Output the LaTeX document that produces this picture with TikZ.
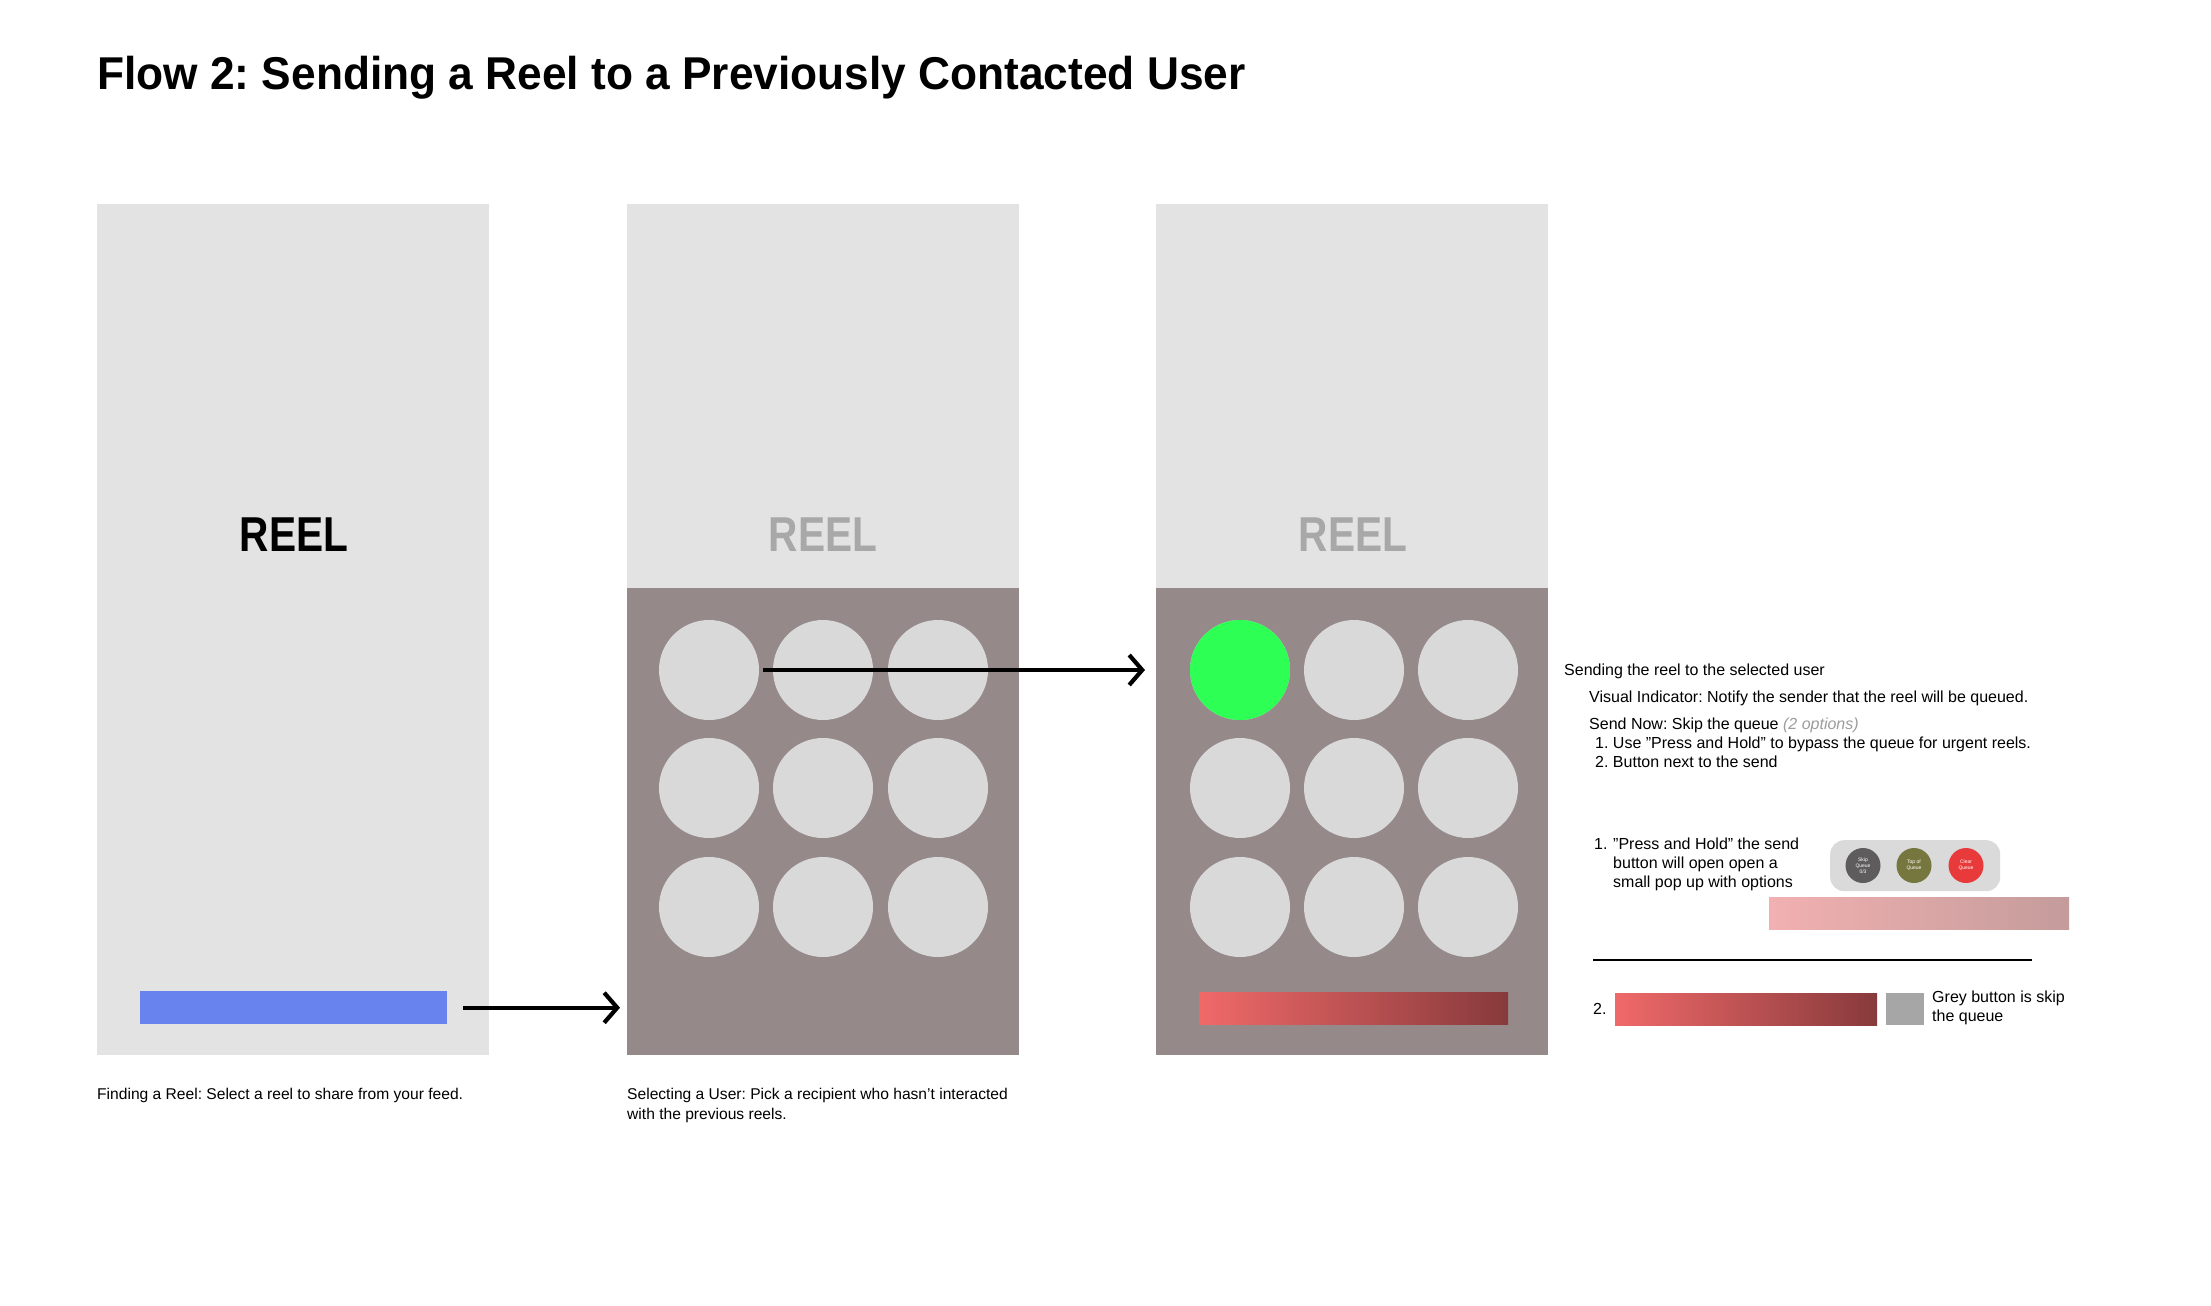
\documentclass[tikz,border=0pt]{standalone}
\usepackage{fontspec}
\setmainfont{Liberation Sans}
\usetikzlibrary{arrows.meta}
\frenchspacing
\definecolor{panelgrey}{HTML}{E3E3E3}
\definecolor{panelbrown}{HTML}{958A89}
\definecolor{circgrey}{HTML}{D9D9D9}
\definecolor{selgreen}{HTML}{2EFF55}
\definecolor{barblue}{HTML}{6883EE}
\definecolor{redA}{HTML}{F06969}
\definecolor{redB}{HTML}{873A3C}
\definecolor{pinkA}{HTML}{F2B0B1}
\definecolor{pinkB}{HTML}{C49C9B}
\definecolor{reelgrey}{HTML}{A8A8A8}
\definecolor{optgrey}{HTML}{9C9C9C}
\definecolor{popgrey}{HTML}{DADADA}
\definecolor{btndark}{HTML}{5E5C5C}
\definecolor{btnolive}{HTML}{76773F}
\definecolor{btnred}{HTML}{E83A3A}
\definecolor{squaregrey}{HTML}{A6A6A6}
\tikzset{
  panel/.style={fill=panelgrey, draw=none, rectangle, anchor=north west, minimum width=392pt, minimum height=851pt, inner sep=0pt},
  lower/.style={fill=panelbrown, draw=none, rectangle, anchor=north west, minimum width=392pt, minimum height=467pt, inner sep=0pt},
  user/.style={circle, fill=circgrey, draw=none, minimum size=100pt, inner sep=0pt},
  reeltxt/.style={font=\fontsize{49}{56}\selectfont\bfseries, inner sep=0pt},
  caption/.style={font=\fontsize{15.6}{19.5}\selectfont, anchor=north west, inner sep=0pt, align=left},
  note/.style={font=\fontsize{16}{18.8}\selectfont, anchor=west, inner sep=0pt, align=left},
  flowarrow/.style={line width=4.2pt, -{Straight Barb[length=13pt,width=30pt,line width=4.2pt]}},
  btn/.style={circle, draw=none, minimum size=35pt, inner sep=0pt, text=white, font=\fontsize{5}{6}\selectfont, align=center},
  bar/.style={rectangle, draw=none, anchor=north west, inner sep=0pt}
}
\newcommand{\reelword}{\scalebox{0.83}[1]{REEL}}
\begin{document}
\begin{tikzpicture}[x=1pt,y=-1pt]
\useasboundingbox[fill=white] (0,0) rectangle (2211,1306);

% title
\node[anchor=west, inner sep=0pt, font=\fontsize{46}{54}\selectfont\bfseries] (title) at (97,78) {\scalebox{0.962}[1]{Flow 2: Sending a Reel to a Previously Contacted User}};

% panel 1
\node[panel] (p1) at (97,204) {};
\node[reeltxt] (r1) at (294,534.5) {\reelword};
\node[bar, fill=barblue, minimum width=307pt, minimum height=33pt] (bar1) at (140,991) {};

% panel 2
\node[panel] (p2) at (627,204) {};
\node[lower] (l2) at (627,588) {};
\node[reeltxt, text=reelgrey] (r2) at (823,534.5) {\reelword};
\foreach \i/\x in {1/709,2/823,3/938}{
  \foreach \j/\y in {1/670,2/788,3/907}{
    \node[user] (a\j\i) at (\x,\y) {};
  }
}

% panel 3
\node[panel] (p3) at (1156,204) {};
\node[lower] (l3) at (1156,588) {};
\node[reeltxt, text=reelgrey] (r3) at (1353,534.5) {\reelword};
\foreach \i/\x in {1/1240,2/1354,3/1468}{
  \foreach \j/\y in {1/670,2/788,3/907}{
    \node[user] (b\j\i) at (\x,\y) {};
  }
}
\node[user, fill=selgreen] (sel) at (1240,670) {};
\node[bar, left color=redA, right color=redB, minimum width=309pt, minimum height=32pt] (bar3) at (1199,992) {};

% arrows
\coordinate (t1) at (p2.west |- bar1.east);
\draw[flowarrow, shorten <=16pt, shorten >=7pt] (bar1.east) -- (t1);
\coordinate (t2) at (p3.west |- a11.east);
\draw[flowarrow, shorten <=4pt, shorten >=11pt] (a11.east) -- (t2);

% captions
\node[caption] (cap1) at (97,1088) {Finding a Reel: Select a reel to share from your feed.};
\node[caption] (cap2) at (627,1088) {Selecting a User: Pick a recipient who hasn’t interacted\\with the previous reels.};

% right notes
\node[note] (n1) at (1564,671) {Sending the reel to the selected user};
\node[note] (n2) at (1589,698) {Visual Indicator: Notify the sender that the reel will be queued.};
\node[note] (n3) at (1589,725) {Send Now: Skip the queue \textcolor{optgrey}{\itshape (2 options)}};
\node[note] (n4) at (1595,744) {1.\ Use "Press and Hold" to bypass the queue for urgent reels.};
\node[note] (n5) at (1595,762) {2.\ Button next to the send};

\node[note, anchor=north west] (o1n) at (1594,838) {1.};
\node[note, anchor=north west] (o1) at (1613,838) {"Press and Hold" the send\\button will open open a\\small pop up with options};

% popup
\node[rectangle, rounded corners=14pt, fill=popgrey, draw=none, anchor=north west, minimum width=170pt, minimum height=51pt, inner sep=0pt] (pop) at (1830,840) {};
\node[btn, fill=btndark] (bskip) at (1863,865.5) {Skip\\Queue\\0/3};
\node[btn, fill=btnolive] (btop) at (1914,865.5) {Top of\\Queue};
\node[btn, fill=btnred] (bclear) at (1966,865.5) {Clear\\Queue};
\node[bar, left color=pinkA, right color=pinkB, minimum width=300pt, minimum height=32pt] (pinkbar) at (1769,897) {};

% divider
\coordinate (d1) at (1593,960);
\coordinate (d2) at (2032,960);
\draw[line width=1.3pt] (d1) -- (d2);

% option 2
\node[note] (o2n) at (1593,1009) {2.};
\node[bar, left color=redA, right color=redB, minimum width=262pt, minimum height=32pt] (bar4) at (1615,993) {};
\node[bar, fill=squaregrey, minimum width=38pt, minimum height=32pt] (sq) at (1886,993) {};
\node[note, anchor=north west] (o2t) at (1932,991) {Grey button is skip\\the queue};
\end{tikzpicture}
\end{document}
